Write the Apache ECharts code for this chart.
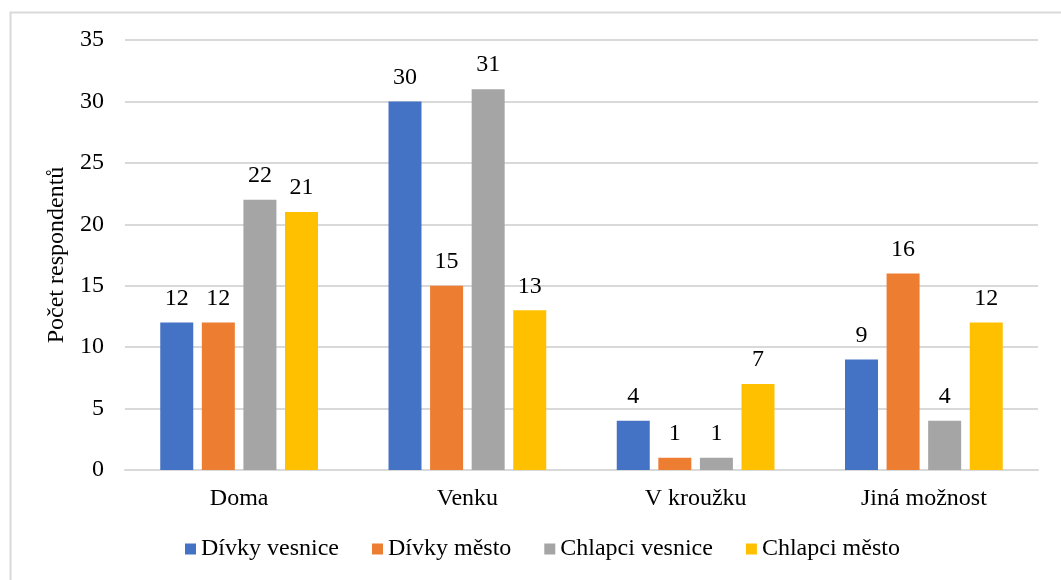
<!DOCTYPE html>
<html>
<head>
<meta charset="utf-8">
<script src="https://cdn.jsdelivr.net/npm/echarts@6/dist/echarts.min.js"></script>
<style>
  html, body { margin: 0; padding: 0; background: #ffffff; }
  #graph { width: 1061px; height: 580px; }
</style>
</head>
<body>
<div id="graph"></div>
<script>
// data
const categories = ['Doma', 'Venku', 'V kroužku', 'Jiná možnost'];
const seriesNames = ['Dívky vesnice', 'Dívky město', 'Chlapci vesnice', 'Chlapci město'];
const divkyVesnice = [12, 30, 4, 9];
const divkyMesto = [12, 15, 1, 16];
const chlapciVesnice = [22, 31, 1, 4];
const chlapciMesto = [21, 13, 7, 12];
const colors = ['#4472C4', '#ED7D31', '#A5A5A5', '#FFC000'];

const font = 'Liberation Serif';
const fs = 24;
const values = [divkyVesnice, divkyMesto, chlapciVesnice, chlapciMesto];

const chartDom = document.getElementById('graph');
const myChart = echarts.init(chartDom);

const option = {
  animation: false,
  textStyle: { fontFamily: font },
  graphic: [
    {
      type: 'rect',
      left: 8,
      top: 10,
      shape: { width: 1100, height: 600 },
      style: { fill: 'none', stroke: '#d9d9d9', lineWidth: 2 },
      silent: true,
    },
  ],
  grid: {
    left: 125,
    right: 23,
    top: 40,
    bottom: 110,
  },
  legend: {
    bottom: 14,
    left: 180,
    icon: 'rect',
    itemWidth: 11,
    itemHeight: 11,
    itemGap: 33,
    textStyle: {
      fontFamily: font,
      fontSize: fs,
      color: '#000000',
    },
    data: seriesNames,
  },
  xAxis: {
    type: 'category',
    data: categories,
    axisTick: { show: false },
    axisLine: { lineStyle: { color: '#d9d9d9', width: 2 } },
    axisLabel: {
      fontFamily: font,
      fontSize: fs,
      color: '#000000',
      margin: 17,
    },
  },
  yAxis: {
    type: 'value',
    min: 0,
    max: 35,
    interval: 5,
    name: 'Počet respondentů',
    nameLocation: 'middle',
    nameGap: 52,
    nameTextStyle: {
      fontFamily: font,
      fontSize: fs,
      color: '#000000',
    },
    axisLine: { show: false },
    axisTick: { show: false },
    axisLabel: {
      fontFamily: font,
      fontSize: fs,
      color: '#000000',
      margin: 21,
    },
    splitLine: { lineStyle: { color: '#d9d9d9', width: 2 } },
  },
  series: seriesNames.map((name, i) => ({
    name: name,
    type: 'bar',
    data: values[i],
    barWidth: 33,
    barGap: '26%',
    itemStyle: { color: colors[i] },
    label: {
      show: true,
      position: 'top',
      distance: 12,
      fontFamily: font,
      fontSize: fs,
      color: '#000000',
    },
  })),
};

myChart.setOption(option);
</script>
</body>
</html>
